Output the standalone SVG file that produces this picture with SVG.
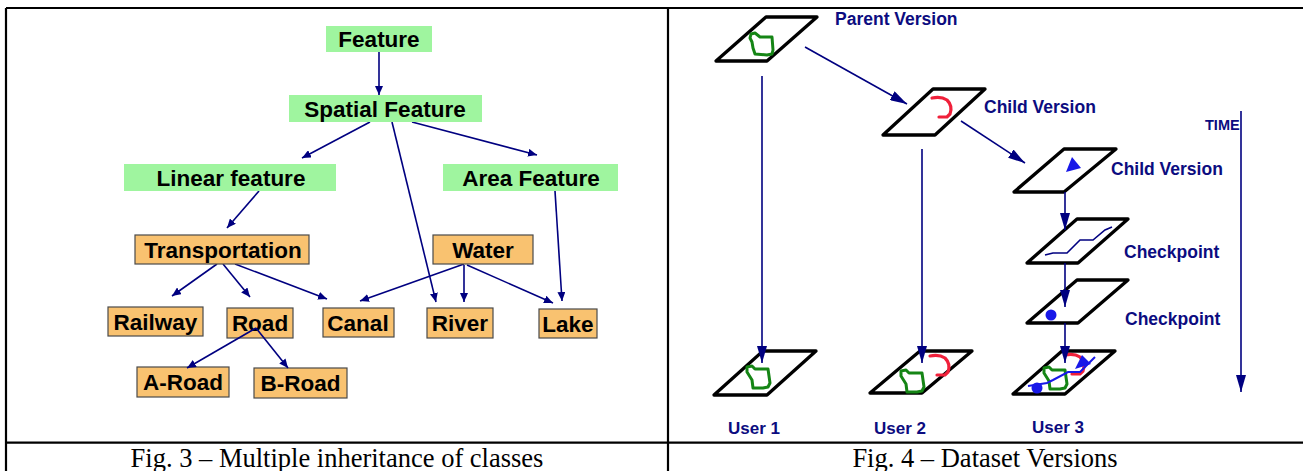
<svg xmlns="http://www.w3.org/2000/svg" width="1303" height="471" viewBox="0 0 1303 471">
<style>
.frame{stroke:#000;stroke-width:2.2;fill:none}
.g{fill:#9ff59f}
.o{fill:#f9c270;stroke:#4a4a4a;stroke-width:1.2}
.lt{font-family:"Liberation Sans",Arial,sans-serif;font-weight:bold;font-size:22.5px;fill:#000;text-anchor:middle}
.rt{font-family:"Liberation Sans",Arial,sans-serif;font-weight:bold;font-size:17.5px;fill:#0c0c80}
.cap{font-family:"Liberation Serif","Times New Roman",serif;font-size:26.5px;fill:#000;text-anchor:middle}
.lc{stroke:#000080;stroke-width:1.6;fill:none;marker-end:url(#ah)}
.rc{stroke:#000080;stroke-width:1.6;fill:none;marker-end:url(#bh)}
.pg{fill:#fff;stroke:#000;stroke-width:3.3;stroke-linejoin:round}
.grn{fill:none;stroke:#158515;stroke-width:3;stroke-linejoin:round}
.red{fill:none;stroke:#f0203a;stroke-width:3.2;stroke-linecap:round}
.blu{fill:#1818e8}
</style>
<defs>
<marker id="ah" markerUnits="userSpaceOnUse" markerWidth="10" markerHeight="8" refX="9" refY="4" orient="auto">
<path d="M0,0 L9,4 L0,8 z" fill="#000080"/>
</marker>
<marker id="bh" markerUnits="userSpaceOnUse" markerWidth="18" markerHeight="10" refX="17" refY="5" orient="auto">
<path d="M0,0 L17,5 L0,10 z" fill="#000080"/>
</marker>
</defs>
<rect width="1303" height="471" fill="#fff"/>
<g id="frame">
<line class="frame" x1="6" y1="8" x2="1303" y2="8"/>
<line class="frame" x1="6" y1="8" x2="6" y2="471"/>
<line class="frame" x1="668" y1="8" x2="668" y2="471"/>
<line class="frame" x1="6" y1="442.7" x2="1303" y2="442.7"/>
</g>
<g id="captions">
<text class="cap" x="337" y="467">Fig. 3 – Multiple inheritance of classes</text>
<text class="cap" x="985" y="467">Fig. 4 – Dataset Versions</text>
</g>
<g id="connectors-left">
<line class="lc" x1="379" y1="52" x2="379" y2="95"/>
<line class="lc" x1="370" y1="122" x2="302" y2="158"/>
<line class="lc" x1="392" y1="122" x2="436" y2="302"/>
<line class="lc" x1="412" y1="122" x2="537" y2="155"/>
<line class="lc" x1="259" y1="191" x2="227" y2="228"/>
<line class="lc" x1="555" y1="191" x2="562" y2="301"/>
<line class="lc" x1="217" y1="264" x2="172" y2="296"/>
<line class="lc" x1="223" y1="264" x2="250" y2="297"/>
<line class="lc" x1="235" y1="264" x2="327" y2="299"/>
<line class="lc" x1="464" y1="264" x2="360" y2="301"/>
<line class="lc" x1="464" y1="265" x2="464" y2="302"/>
<line class="lc" x1="467" y1="265" x2="553" y2="303"/>
</g>
<g id="n-feature"><rect class="g" x="326" y="26" width="106" height="26"/><text class="lt" x="379" y="47">Feature</text></g>
<g id="n-spatial"><rect class="g" x="289" y="95" width="193" height="27"/><text class="lt" x="385" y="116.5">Spatial Feature</text></g>
<g id="n-linear"><rect class="g" x="124" y="164" width="212" height="27"/><text class="lt" x="231" y="185.5">Linear feature</text></g>
<g id="n-area"><rect class="g" x="443" y="164" width="175" height="27"/><text class="lt" x="531" y="185.5">Area Feature</text></g>
<g id="n-transportation"><rect class="o" x="135" y="235" width="174" height="29"/><text class="lt" x="223" y="257.5">Transportation</text></g>
<g id="n-water"><rect class="o" x="433" y="235" width="100" height="29"/><text class="lt" x="483" y="257.5">Water</text></g>
<g id="n-railway"><rect class="o" x="108" y="307" width="95" height="29"/><text class="lt" x="155.5" y="329.5">Railway</text></g>
<g id="n-road"><rect class="o" x="227" y="308" width="66" height="30"/><text class="lt" x="260" y="331">Road</text></g>
<g id="n-canal"><rect class="o" x="323" y="308" width="71" height="29"/><text class="lt" x="358" y="330.5">Canal</text></g>
<g id="n-river"><rect class="o" x="427" y="308" width="66" height="30"/><text class="lt" x="460" y="331">River</text></g>
<g id="n-lake"><rect class="o" x="539" y="309" width="58" height="29"/><text class="lt" x="568" y="331.5">Lake</text></g>
<g id="n-aroad"><rect class="o" x="137" y="367" width="92" height="30"/><text class="lt" x="183" y="390">A-Road</text></g>
<g id="n-broad"><rect class="o" x="254" y="368" width="93" height="30"/><text class="lt" x="300.5" y="391">B-Road</text></g>
<g id="connectors-road">
<line class="lc" x1="256" y1="328" x2="187" y2="368"/>
<line class="lc" x1="256" y1="328" x2="288" y2="368"/>
</g>
<g id="v-parent">
<polygon class="pg" points="766,17 817,17 767,61 716,61"/>
<path class="grn" d="M750,38 L751,34 L755,33 L760,37 L772,37 L773,50 L772,54 L767,55 L755,54 L753,48 L752,42 z"/>
<text class="rt" x="835" y="25">Parent Version</text>
</g>
<g id="v-child1">
<polygon class="pg" points="933,89 985,89 935,135 883,135"/>
<path class="red" d="M932,98 Q941,96 947,100 Q953,106 950,114 L947,117 L939,117"/>
<text class="rt" x="984" y="113">Child Version</text>
</g>
<g id="v-child2">
<polygon class="pg" points="1064,149 1116,149 1064,192 1014,192"/>
<polygon class="blu" points="1072,157 1066,172 1081,168"/>
<text class="rt" x="1111" y="175">Child Version</text>
</g>
<g id="v-check1">
<polygon class="pg" points="1077,219 1128,219 1078,263 1027,263"/>
<polyline fill="none" stroke="#000080" stroke-width="1.6" points="1045,255 1053,253 1067,253 1080,240 1093,240 1105,230 1112,227"/>
<text class="rt" x="1124" y="258">Checkpoint</text>
</g>
<g id="v-check2">
<polygon class="pg" points="1077,280 1128,280 1078,323 1027,323"/>
<circle class="blu" cx="1051" cy="315" r="5.5"/>
<text class="rt" x="1125" y="325">Checkpoint</text>
</g>
<g id="v-user1">
<polygon class="pg" points="763,351 816,351 767,395 714,395"/>
<path class="grn" d="M747,372 L747,367 L752,366 L755,369 L768,369 L770,383 L768,387 L763,388 L753,388 L752,380 z"/>
<text class="rt" x="728" y="434" style="font-size:17px">User 1</text>
</g>
<g id="v-user2">
<polygon class="pg" points="920,351 972,351 922,393 870,393"/>
<path class="grn" d="M901,376 L901,371 L906,370 L909,373 L922,373 L924,387 L922,391 L917,392 L907,392 L906,384 z"/>
<path class="red" d="M930,356 Q939,354 945,358 Q951,364 948,372 L945,375 L937,375"/>
<text class="rt" x="874" y="434" style="font-size:17px">User 2</text>
</g>
<g id="v-user3">
<polygon class="pg" points="1062,351 1115,351 1065,394 1013,394"/>
<path class="grn" d="M1044,373 L1044,368 L1049,367 L1052,370 L1065,370 L1067,384 L1065,388 L1060,389 L1050,389 L1049,381 z"/>
<path class="red" d="M1065,355 Q1074,353 1080,357 Q1086,363 1083,371 L1080,374 L1072,374"/>
<polyline fill="none" stroke="#1818e8" stroke-width="2" points="1028,386 1047,383 1053,380 1068,372 1080,372 1095,357"/>
<polygon class="blu" points="1082,355 1075,369 1091,364"/>
<circle class="blu" cx="1037" cy="388" r="5.5"/>
<text class="rt" x="1032" y="433" style="font-size:17px">User 3</text>
</g>
<g id="connectors-right">
<line class="rc" x1="805" y1="47" x2="907" y2="104"/>
<line class="rc" x1="961" y1="121" x2="1025" y2="163"/>
<line class="rc" x1="762" y1="76" x2="762" y2="363"/>
<line class="rc" x1="922" y1="149" x2="922" y2="363"/>
<line class="rc" x1="1065" y1="192" x2="1065" y2="230"/>
<line class="rc" x1="1065" y1="263" x2="1065" y2="307"/>
<line class="rc" x1="1065" y1="323" x2="1065" y2="363"/>
<line class="rc" x1="1241" y1="111" x2="1241" y2="392"/>
</g>
<g id="time-label"><text class="rt" x="1205" y="130" style="font-size:14.5px">TIME</text></g>
</svg>
